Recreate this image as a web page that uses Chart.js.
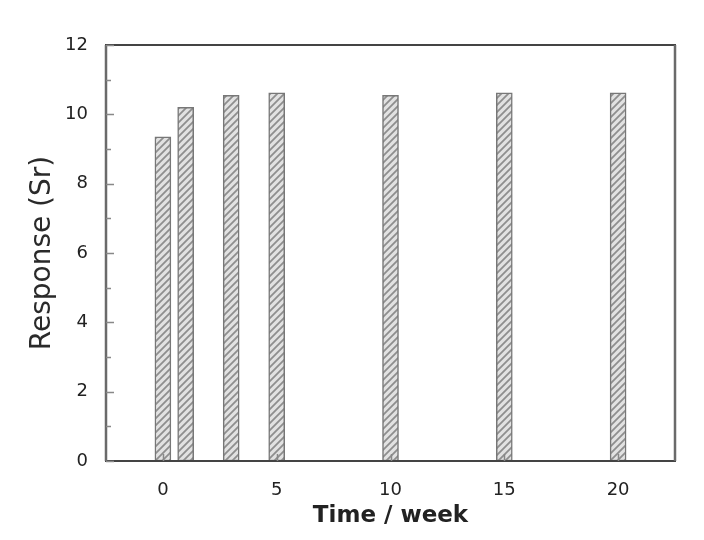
<!DOCTYPE html>
<html>
<head>
<meta charset="utf-8">
<script src="https://cdn.jsdelivr.net/npm/chart.js@4/dist/chart.umd.min.js"></script>
<style>
  html, body { margin: 0; padding: 0; background: #ffffff; }
  canvas { display: block; }
</style>
</head>
<body>
<canvas id="chart" width="704" height="540"></canvas>
<script>
// data
const weeks = [0, 1, 3, 5, 10, 15, 20];
const response = [9.35, 10.2, 10.55, 10.62, 10.55, 10.62, 10.62];
const xTicks = [0, 5, 10, 15, 20];
const yTicks = [0, 2, 4, 6, 8, 10, 12];

const FONT = "'DejaVu Sans', 'Liberation Sans', sans-serif";
const TEXT = "#222222";

// hatched fill for the bars
function makeHatch() {
  const c = document.createElement("canvas");
  c.width = 7;
  c.height = 7;
  const g = c.getContext("2d");
  g.fillStyle = "#e2e2e2";
  g.fillRect(0, 0, 7, 7);
  g.strokeStyle = "#8e8e8e";
  g.lineWidth = 1.8;
  g.beginPath();
  g.moveTo(0, 7); g.lineTo(7, 0);
  g.moveTo(-3.5, 3.5); g.lineTo(3.5, -3.5);
  g.moveTo(3.5, 10.5); g.lineTo(10.5, 3.5);
  g.stroke();
  return document.getElementById("chart").getContext("2d").createPattern(c, "repeat");
}

// frame round the plot and inward tick marks
const framePlugin = {
  id: "frame",
  afterDatasetsDraw(chart) {
    const { ctx, chartArea: a, scales } = chart;
    ctx.save();
    ctx.lineWidth = 2;
    ctx.strokeStyle = "#444444";
    ctx.beginPath();
    ctx.moveTo(a.left - 1, a.top); ctx.lineTo(a.right + 1, a.top);
    ctx.moveTo(a.left - 1, a.bottom); ctx.lineTo(a.right + 1, a.bottom);
    ctx.stroke();
    ctx.strokeStyle = "#6a6a6a";
    ctx.lineWidth = 2.5;
    ctx.beginPath();
    ctx.moveTo(a.left, a.top); ctx.lineTo(a.left, a.bottom);
    ctx.moveTo(a.right, a.top); ctx.lineTo(a.right, a.bottom);
    ctx.stroke();

    // tick marks
    ctx.strokeStyle = "#888888";
    ctx.lineWidth = 1.5;
    ctx.beginPath();
    for (let v = yTicks[0]; v <= yTicks[yTicks.length - 1]; v++) {
      const y = Math.round(scales.y.getPixelForValue(v)) + 0.5;
      const len = yTicks.includes(v) ? 8 : 5;
      ctx.moveTo(a.left, y);
      ctx.lineTo(a.left + len, y);
    }
    xTicks.forEach((v) => {
      const x = Math.round(scales.x.getPixelForValue(v)) + 0.5;
      ctx.moveTo(x, a.bottom);
      ctx.lineTo(x, a.bottom - 7);
    });
    ctx.stroke();
    ctx.restore();
  },
};

new Chart(document.getElementById("chart"), {
  type: "bar",
  data: {
    datasets: [
      {
        data: weeks.map((w, i) => ({ x: w, y: response[i] })),
        backgroundColor: makeHatch(),
        borderColor: "#777777",
        borderWidth: 1.5,
        borderSkipped: false,
        barThickness: 16,
      },
    ],
  },
  options: {
    responsive: false,
    animation: false,
    events: [],
    layout: { padding: { top: 45, right: 29, left: 0, bottom: 0 } },
    plugins: {
      legend: { display: false },
      tooltip: { enabled: false },
    },
    scales: {
      x: {
        type: "linear",
        min: -2.5,
        max: 22.5,
        offset: false,
        grid: { display: false, offset: false },
        border: { display: false },
        afterBuildTicks: (scale) => {
          scale.ticks = xTicks.map((v) => ({ value: v }));
        },
        afterFit: (scale) => {
          scale.height = 79;
        },
        ticks: {
          color: TEXT,
          font: { family: FONT, size: 18 },
          padding: 11,
          maxRotation: 0,
        },
        title: {
          display: true,
          text: "Time / week",
          color: TEXT,
          font: { family: FONT, size: 23, weight: "bold" },
          padding: { top: 0, bottom: 10 },
        },
      },
      y: {
        min: 0,
        max: 12,
        grid: { display: false },
        border: { display: false },
        afterBuildTicks: (scale) => {
          scale.ticks = yTicks.map((v) => ({ value: v }));
        },
        afterFit: (scale) => {
          scale.width = 106;
        },
        ticks: {
          color: TEXT,
          font: { family: FONT, size: 18 },
          padding: 10,
        },
        title: {
          display: true,
          text: "Response (Sr)",
          color: "#2a2a2a",
          font: { family: FONT, size: 28 },
          padding: { top: 26, bottom: 0 },
        },
      },
    },
  },
  plugins: [framePlugin],
});
</script>
</body>
</html>
